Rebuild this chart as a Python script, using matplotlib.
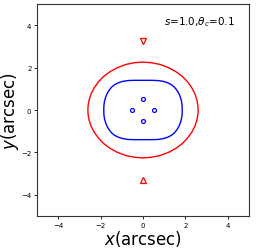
import numpy as np
import matplotlib
matplotlib.use("Agg")
import matplotlib.pyplot as plt
from matplotlib.patches import Polygon

# first-quadrant points, mirrored into the other quadrants
red_x = [0.00, 0.40, 0.80, 1.20, 1.55, 1.85, 2.10, 2.30, 2.45, 2.54, 2.59, 2.60]
red_y = [2.26, 2.23, 2.15, 2.00, 1.81, 1.59, 1.33, 1.05, 0.76, 0.48, 0.21, 0.00]
blue_x = [0.00, 0.40, 0.70, 0.95, 1.15, 1.33, 1.48, 1.60, 1.70, 1.77, 1.82, 1.845, 1.85]
blue_y = [1.40, 1.40, 1.39, 1.35, 1.29, 1.20, 1.08, 0.93, 0.76, 0.58, 0.40, 0.20, 0.00]

# image positions
img_x = [0.0, -0.5, 0.5, 0.0]
img_y = [0.5, 0.0, 0.0, -0.5]
src_up = (0.0, 3.25)
src_down = (0.0, -3.28)

label = r"$s$=1.0,$\theta_c$=0.1"


def closed_curve(qx, qy):
    qx = np.array(qx)
    qy = np.array(qy)
    # quadrant I -> IV -> III -> II
    xs = np.concatenate([qx, qx[::-1], -qx, -qx[::-1]])
    ys = np.concatenate([qy, -qy[::-1], -qy, qy[::-1]])
    return np.column_stack([xs, ys])


fig = plt.figure(figsize=(2.56, 2.51), dpi=100)
ax = fig.add_axes([37 / 256, 1 - 217 / 251, 212 / 256, 212 / 251])

ax.add_patch(Polygon(closed_curve(red_x, red_y), closed=True, fill=False,
                     edgecolor="red", lw=1.0))
ax.add_patch(Polygon(closed_curve(blue_x, blue_y), closed=True, fill=False,
                     edgecolor="blue", lw=1.0))

ax.plot(img_x, img_y, "o", ms=2.8, mfc="none", mec="blue", mew=0.9)
ax.plot(*src_up, "v", ms=4.5, mfc="none", mec="red", mew=0.9)
ax.plot(*src_down, "^", ms=4.5, mfc="none", mec="red", mew=0.9)

ax.text(1.0, 4.2, label, fontsize=7.5, va="center", ha="left")

ax.set_xlim(-5, 5)
ax.set_ylim(-5, 5)
ax.set_xticks([-4, -2, 0, 2, 4])
ax.set_yticks([-4, -2, 0, 2, 4])
ax.tick_params(labelsize=5, length=2, width=0.6, pad=2)
ax.set_xlabel(r"$x$(arcsec)", fontsize=12, labelpad=0)
ax.set_ylabel(r"$y$(arcsec)", fontsize=12, labelpad=0)
for sp in ax.spines.values():
    sp.set_linewidth(0.8)
    sp.set_color("#333333")

fig.savefig("out.png", dpi=100)
